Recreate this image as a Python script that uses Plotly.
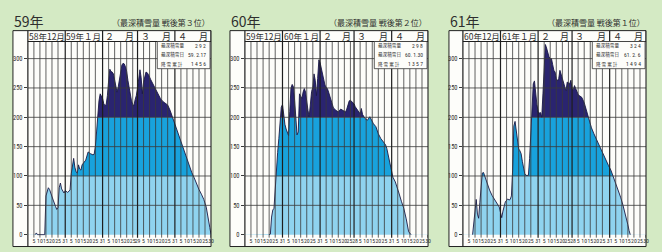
import plotly.graph_objects as go

W, H = 662, 252

# ---------------- data (day index counted from Dec 1 = 1) ----------------
p1_days = [0, 6, 7, 8, 14, 15, 16, 17, 18, 19, 21, 23, 24, 25, 26, 27, 28, 30, 31, 33, 35, 36, 37, 38, 39, 40, 41,
           42, 43, 44, 45, 47, 48, 49, 50, 52, 54, 55, 56, 57, 58, 59, 60, 61, 62, 63, 64, 65, 66, 67, 68, 69, 70,
           71, 72, 73, 74, 75, 76, 77, 78, 79, 80, 81, 82, 83, 84, 85, 86, 87, 88, 89, 90, 91, 92, 93, 94, 95, 96,
           97, 98, 99, 100, 102, 104, 106, 108, 110, 112, 114, 116, 118, 120, 122, 124, 126, 128, 130, 132, 134,
           136, 138, 140, 142, 144, 146, 148, 150, 151, 152]
p1_depth = [0, 0, 3, 0, 0, 66, 76, 80, 77, 72, 59, 48, 43, 46, 80, 88, 78, 71, 75, 72, 76, 104, 122, 130, 115, 107,
            105, 119, 112, 110, 119, 124, 127, 134, 141, 138, 136, 137, 150, 175, 210, 228, 240, 236, 232, 223, 220,
            222, 237, 262, 282, 278, 277, 274, 263, 250, 243, 252, 266, 280, 289, 292, 291, 286, 278, 263, 250, 240,
            228, 222, 220, 230, 237, 250, 270, 281, 268, 240, 260, 272, 277, 276, 273, 264, 256, 248, 240, 232, 227,
            224, 221, 212, 200, 189, 176, 166, 153, 142, 129, 116, 106, 97, 86, 77, 69, 60, 47, 27, 12, 0]

p2_days = [0, 20, 21, 22, 23, 24, 25, 26, 27, 28, 29, 30, 31, 32, 33, 34, 35, 36, 37, 38, 39, 40, 41, 42, 43, 44,
           45, 46, 47, 48, 49, 50, 51, 52, 53, 54, 55, 56, 57, 58, 59, 60, 61, 62, 63, 64, 65, 66, 67, 68, 69, 70,
           71, 72, 73, 75, 77, 79, 81, 83, 84, 85, 86, 87, 88, 90, 91, 93, 95, 96, 97, 99, 101, 103, 104, 106, 108,
           110, 112, 114, 116, 117, 118, 119, 121, 122, 124, 125, 127, 129, 131, 133, 134, 135, 137, 151]
p2_depth = [0, 0, 1, 30, 42, 45, 85, 110, 140, 164, 195, 217, 222, 200, 188, 180, 175, 169, 210, 250, 256, 252, 229,
            195, 170, 175, 240, 236, 232, 243, 249, 243, 225, 212, 201, 225, 244, 251, 274, 263, 237, 266, 298, 293,
            282, 272, 263, 255, 251, 249, 243, 235, 227, 220, 216, 212, 209, 214, 212, 209, 214, 220, 228, 229, 227,
            223, 218, 212, 206, 215, 205, 198, 195, 201, 196, 189, 184, 172, 164, 158, 153, 147, 138, 130, 107, 98,
            90, 82, 71, 57, 45, 27, 14, 5, 0, 0]

p3_days = [0, 8, 9, 10, 11, 12, 13, 14, 15, 16, 17, 18, 19, 20, 22, 24, 26, 28, 30, 31, 32, 33, 34, 35, 37, 38, 39,
           40, 41, 42, 43, 44, 45, 46, 47, 48, 49, 50, 51, 52, 54, 55, 56, 57, 58, 59, 60, 61, 62, 63, 64, 65, 66,
           67, 68, 69, 70, 71, 72, 73, 74, 75, 76, 77, 78, 79, 80, 81, 82, 83, 84, 85, 86, 87, 88, 89, 90, 91, 92,
           93, 94, 95, 96, 98, 100, 102, 104, 106, 108, 110, 112, 114, 116, 118, 120, 122, 124, 126, 128, 130, 132,
           134, 136, 137, 138, 151]
p3_depth = [0, 0, 20, 45, 60, 35, 28, 55, 90, 105, 106, 100, 95, 86, 76, 67, 60, 54, 47, 38, 29, 40, 47, 56, 61, 59,
            60, 66, 110, 185, 193, 175, 155, 146, 143, 138, 125, 112, 104, 101, 101, 130, 180, 200, 257, 262, 240,
            222, 210, 207, 208, 200, 240, 285, 324, 318, 308, 303, 300, 300, 290, 280, 277, 266, 262, 266, 280, 272,
            266, 259, 252, 245, 260, 258, 257, 263, 248, 247, 254, 249, 243, 239, 237, 234, 225, 211, 195, 182, 172,
            163, 152, 143, 135, 127, 118, 110, 99, 88, 77, 64, 50, 35, 17, 7, 0, 0]

month_lengths = [[31, 31, 29, 31, 30], [31, 31, 28, 31, 30], [31, 31, 28, 31, 30]]
tick_days = [5, 10, 15, 20, 25]          # plus the last day of each month
titles = ["59年", "60年", "61年"]
subtitles = ["（最深積雪量 戦後第３位）", "（最深積雪量 戦後第２位）", "（最深積雪量 戦後第１位）"]
header_full = [["58年12月", "59年１月"], ["59年12月", "60年１月"], ["60年12月", "61年１月"]]
header_num = ["２", "３", "４"]
info_labels = ["最深積雪量", "最深積雪日", "降 雪 累 計"]
info_values = [["2 9 2", "59. 2.17", "1 4 5 6"],
               ["2 9 8", "60. 1.30", "1 3 5 7"],
               ["3 2 4", "61. 2. 6", "1 4 9 4"]]
y_ticks = [0, 50, 100, 150, 200, 250, 300]
bands = [(0, 100), (100, 200), (200, 330)]

# ---------------- style ----------------
BG = "#d4eac4"
PLOT_BG = "#fdfdfa"
BAND_COLORS = ["#8fd3ef", "#18a2dc", "#2a2470"]
GRID = "#3a3a3a"
TXT = "#2e2e2e"
NARROW = "Liberation Sans Narrow, Roboto Condensed, DejaVu Sans Condensed, Liberation Sans, sans-serif"
CJK = "Noto Sans CJK JP, sans-serif"
MIXED = "Liberation Sans Narrow, Noto Sans CJK JP, sans-serif"

geom = [dict(box_left=13, plot_left=28, plot_right=212),
        dict(box_left=231, plot_left=246, plot_right=430),
        dict(box_left=451, plot_left=465, plot_right=649)]
BOX_TOP, BOX_BOT, HEAD_BOT = 31, 249.5, 42
PLOT_TOP, PLOT_BOT = 41.5, 238.7
Y_RANGE = [-2, 330]


def px(x):
    return x / W


def py(y):
    return 1 - y / H


fig = go.Figure()
shapes = []
annotations = []
layout_axes = {}

series = [(p1_days, p1_depth), (p2_days, p2_depth), (p3_days, p3_depth)]

for i in range(3):
    g = geom[i]
    days, depth = series[i]
    ml = month_lengths[i]
    total = sum(ml)
    sfx = "" if i == 0 else str(i + 1)
    xa, ya = "x" + sfx, "y" + sfx

    # month starts, grid positions and tick labels
    starts = [sum(ml[:k]) for k in range(5)]
    grid_days = []
    tvals, ttext = [], []
    for k in range(5):
        for d in tick_days:
            grid_days.append(starts[k] + d)
        grid_days.append(starts[k] + ml[k])
        for d in tick_days[:-1]:
            tvals.append(starts[k] + d)
            ttext.append(str(d))
        last = tick_days[-1]
        if ml[k] - last < 4:
            # labels crammed together as in the printed chart
            tvals.append(starts[k] + (last + ml[k]) / 2)
            ttext.append(str(last) + str(ml[k]))
        else:
            tvals += [starts[k] + last, starts[k] + ml[k]]
            ttext += [str(last), str(ml[k])]

    layout_axes["xaxis" + sfx] = dict(domain=[px(g["plot_left"]), px(g["plot_right"])], range=[0, total],
                                      anchor=ya, showgrid=False, zeroline=False, showline=False,
                                      tickvals=tvals, ticktext=ttext, tickangle=0, ticks="",
                                      tickfont=dict(size=5.8, color=TXT, family=NARROW), fixedrange=True)
    layout_axes["yaxis" + sfx] = dict(domain=[py(PLOT_BOT), py(PLOT_TOP)], range=Y_RANGE, anchor=xa,
                                      showgrid=False, zeroline=False, showline=False,
                                      tickvals=y_ticks, ticks="outside", ticklen=3, tickwidth=0.8,
                                      tickcolor=GRID, tickfont=dict(size=6.5, color=TXT, family=NARROW),
                                      fixedrange=True)

    # white chart box
    shapes.append(dict(type="rect", xref="paper", yref="paper", layer="below",
                       x0=px(g["box_left"]), x1=px(g["plot_right"]), y0=py(BOX_BOT), y1=py(BOX_TOP),
                       fillcolor=PLOT_BG, line=dict(color="#222", width=1)))
    # colour bands (masked above the curve by a white fill)
    for (b0, b1), c in zip(bands, BAND_COLORS):
        shapes.append(dict(type="rect", xref=xa, yref=ya, layer="below", x0=0, x1=total, y0=b0, y1=b1,
                           fillcolor=c, line=dict(width=0)))

    fig.add_trace(go.Scatter(x=days, y=depth, mode="lines", line=dict(width=0, color=PLOT_BG),
                             xaxis=xa, yaxis=ya, hoverinfo="skip", showlegend=False))
    fig.add_trace(go.Scatter(x=[0, total], y=[Y_RANGE[1], Y_RANGE[1]], mode="lines", fill="tonexty",
                             fillcolor=PLOT_BG, line=dict(width=0, color=PLOT_BG),
                             xaxis=xa, yaxis=ya, hoverinfo="skip", showlegend=False))
    # outline of the snow curve (skip flat zero runs)
    yline = []
    for j, v in enumerate(depth):
        prev_z = j == 0 or depth[j - 1] == 0
        next_z = j == len(depth) - 1 or depth[j + 1] == 0
        yline.append(None if (v == 0 and prev_z and next_z) else v)
    fig.add_trace(go.Scatter(x=days, y=yline, mode="lines", line=dict(width=0.9, color="#1b1a45"),
                             xaxis=xa, yaxis=ya, hoverinfo="skip", showlegend=False, connectgaps=False))

    # grid: horizontal
    for v in y_ticks[1:]:
        shapes.append(dict(type="line", xref=xa, yref=ya, layer="above", x0=0, x1=total, y0=v, y1=v,
                           line=dict(color=GRID, width=0.8)))
    # grid: vertical
    month_ends = set(starts[k] + ml[k] for k in range(5))
    for t in grid_days:
        if t in month_ends:
            shapes.append(dict(type="line", xref=xa, yref="paper", layer="above", x0=t, x1=t,
                               y0=py(240.5), y1=py(BOX_TOP), line=dict(color="#1e1e1e", width=1.2)))
        else:
            shapes.append(dict(type="line", xref=xa, yref="paper", layer="above", x0=t, x1=t,
                               y0=py(240.5), y1=py(HEAD_BOT), line=dict(color=GRID, width=0.8)))
    # axis line and header line
    shapes.append(dict(type="line", xref="paper", yref="paper", layer="above",
                       x0=px(g["plot_left"]), x1=px(g["plot_left"]), y0=py(BOX_BOT), y1=py(BOX_TOP),
                       line=dict(color="#1e1e1e", width=1.2)))
    shapes.append(dict(type="line", xref="paper", yref="paper", layer="above",
                       x0=px(g["plot_left"]), x1=px(g["plot_right"]), y0=py(HEAD_BOT), y1=py(HEAD_BOT),
                       line=dict(color="#1e1e1e", width=1)))

    # header month labels
    for k in range(2):
        annotations.append(dict(xref=xa, yref="paper", x=starts[k] + ml[k] / 2, y=py(36.8),
                                text=header_full[i][k], showarrow=False, xanchor="center", yanchor="middle",
                                font=dict(size=8.5, color=TXT, family=MIXED)))
    for k in range(2, 5):
        annotations.append(dict(xref=xa, yref="paper", x=starts[k] + ml[k] * 0.21, y=py(36.8),
                                text=header_num[k - 2], showarrow=False, xanchor="center", yanchor="middle",
                                font=dict(size=9, color=TXT, family=CJK)))
        annotations.append(dict(xref=xa, yref="paper", x=starts[k] + ml[k] * 0.78, y=py(36.8),
                                text="月", showarrow=False, xanchor="center", yanchor="middle",
                                font=dict(size=9, color=TXT, family=CJK)))

    # title & subtitle
    annotations.append(dict(xref="paper", yref="paper", x=px(g["box_left"] - 1), y=py(21), text=titles[i],
                            showarrow=False, xanchor="left", yanchor="middle",
                            font=dict(size=14, color=TXT, family=MIXED)))
    annotations.append(dict(xref="paper", yref="paper", x=px(g["plot_right"] + 1), y=py(22.5),
                            text=subtitles[i], showarrow=False, xanchor="right", yanchor="middle",
                            font=dict(size=8, color=TXT, family=CJK)))

    # info box
    ib_r = g["plot_right"] - 1
    ib_l = ib_r - 53
    shapes.append(dict(type="rect", xref="paper", yref="paper", layer="above",
                       x0=px(ib_l), x1=px(ib_r), y0=py(69.5), y1=py(HEAD_BOT),
                       fillcolor=PLOT_BG, line=dict(color="#333", width=0.8)))
    for r, yy in enumerate([46.3, 55.6, 64.8]):
        annotations.append(dict(xref="paper", yref="paper", x=px(ib_l + 2), y=py(yy), text=info_labels[r],
                                showarrow=False, xanchor="left", yanchor="middle",
                                font=dict(size=4.6, color=TXT, family=CJK)))
        annotations.append(dict(xref="paper", yref="paper", x=px(ib_r - 2), y=py(yy), text=info_values[i][r],
                                showarrow=False, xanchor="right", yanchor="middle",
                                font=dict(size=5.6, color=TXT, family=NARROW)))

fig.update_layout(width=W, height=H, margin=dict(l=0, r=0, t=0, b=0), paper_bgcolor=BG,
                  plot_bgcolor=PLOT_BG, showlegend=False, shapes=shapes, annotations=annotations,
                  **layout_axes)

fig.write_html("out.html")
